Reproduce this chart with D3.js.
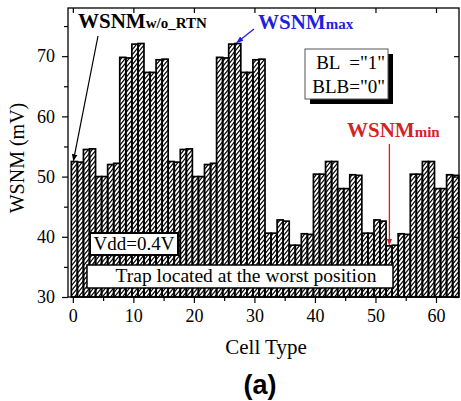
<!DOCTYPE html>
<html>
<head>
<meta charset="utf-8">
<script src="https://cdn.jsdelivr.net/npm/d3@7"></script>
<style>
body { margin: 0; background: #fff; }
text { font-family: "Liberation Serif", "Times New Roman", serif; }
</style>
</head>
<body>
<div id="chart"></div>
<script>
// WSNM per cell type (mV), cell index = position in array
var wsnm = [
  52.5, 52.4, 54.5, 54.6, 50.0, 50.0, 52.0, 52.2,
  69.8, 69.7, 72.0, 72.1, 67.3, 67.3, 69.4, 69.5,
  52.5, 52.4, 54.5, 54.6, 50.0, 50.0, 52.0, 52.2,
  69.8, 69.7, 72.0, 72.1, 67.3, 67.3, 69.4, 69.5,
  40.6, 40.6, 42.8, 42.6, 38.6, 38.6, 40.5, 40.4,
  50.4, 50.4, 52.5, 52.5, 48.0, 48.0, 50.3, 50.2,
  40.6, 40.6, 42.8, 42.6, 38.5, 38.6, 40.5, 40.4,
  50.4, 50.4, 52.5, 52.5, 48.0, 48.0, 50.3, 50.2
];
var xTicks = [0, 10, 20, 30, 40, 50, 60];
var xMinor = [5, 15, 25, 35, 45, 55];
var yTicks = [30, 40, 50, 60, 70];
var yMinor = [35, 45, 55, 65, 75];

var width = 461, height = 401;
var pLeft = 68, pRight = 459, pTop = 8, pBottom = 297;

var svg = d3.select("#chart").append("svg")
  .attr("width", width)
  .attr("height", height);

var x = d3.scaleLinear().domain([-0.8, 63.8]).range([pLeft, pRight]);
var y = d3.scaleLinear().domain([30, 78]).range([pBottom, pTop]);

var defs = svg.append("defs");
defs.append("pattern")
  .attr("id", "hatch")
  .attr("patternUnits", "userSpaceOnUse")
  .attr("width", 4)
  .attr("height", 5)
  .append("path")
  .attr("d", "M0,5 L4,0 M-1,1.25 L1,-1.25 M3,6.25 L5,3.75")
  .attr("stroke", "#000")
  .attr("stroke-width", 1.1);

function marker(id, col) {
  defs.append("marker")
    .attr("id", id)
    .attr("viewBox", "0 0 10 10")
    .attr("refX", 9).attr("refY", 5)
    .attr("markerWidth", 7).attr("markerHeight", 7)
    .attr("markerUnits", "userSpaceOnUse")
    .attr("orient", "auto")
    .append("path")
    .attr("d", "M0,1 L10,5 L0,9 Z")
    .attr("fill", col);
}
marker("arrK", "#000");
marker("arrB", "#1f1fe0");
marker("arrR", "#d42323");

// bars
svg.append("g").selectAll("rect")
  .data(wsnm)
  .enter().append("rect")
  .attr("x", function (d, i) { return x(i - 0.25); })
  .attr("width", function (d, i) { return x(i + 0.75) - x(i - 0.25); })
  .attr("y", function (d) { return y(d); })
  .attr("height", function (d) { return y(30) - y(d); })
  .attr("fill", "url(#hatch)")
  .attr("stroke", "#000")
  .attr("stroke-width", 1.7);

// frame
svg.append("rect")
  .attr("x", pLeft).attr("y", pTop)
  .attr("width", pRight - pLeft).attr("height", pBottom - pTop)
  .attr("fill", "none")
  .attr("stroke", "#000")
  .attr("stroke-width", 1.3);

// axes
var xAxis = svg.append("g")
  .attr("transform", "translate(0," + pBottom + ")")
  .call(d3.axisBottom(x).tickValues(xTicks).tickSize(6).tickPadding(6).tickFormat(d3.format("d")));
var xAxisMinor = svg.append("g")
  .attr("transform", "translate(0," + pBottom + ")")
  .call(d3.axisBottom(x).tickValues(xMinor).tickSize(4).tickFormat(""));
var yAxis = svg.append("g")
  .attr("transform", "translate(" + pLeft + ",0)")
  .call(d3.axisLeft(y).tickValues(yTicks).tickSize(6).tickPadding(7).tickFormat(d3.format("d")));
var yAxisMinor = svg.append("g")
  .attr("transform", "translate(" + pLeft + ",0)")
  .call(d3.axisLeft(y).tickValues(yMinor).tickSize(4).tickFormat(""));
var topAxis = svg.append("g")
  .attr("transform", "translate(0," + pTop + ")")
  .call(d3.axisTop(x).tickValues(xTicks).tickSize(-5).tickFormat(""));
var rightAxis = svg.append("g")
  .attr("transform", "translate(" + pRight + ",0)")
  .call(d3.axisRight(y).tickValues(yTicks).tickSize(-5).tickFormat(""));

[xAxis, xAxisMinor, yAxis, yAxisMinor, topAxis, rightAxis].forEach(function (g) {
  g.select(".domain").remove();
  g.selectAll("line").attr("stroke", "#000").attr("stroke-width", 1.2);
  g.selectAll("text")
    .attr("font-family", "Liberation Serif, serif")
    .attr("font-size", 18)
    .attr("fill", "#000");
});

// axis titles
svg.append("text")
  .attr("transform", "translate(24,158) rotate(-90)")
  .attr("text-anchor", "middle")
  .attr("font-size", 20)
  .text("WSNM (mV)");
svg.append("text")
  .attr("x", 266).attr("y", 354)
  .attr("text-anchor", "middle")
  .attr("font-size", 21)
  .text("Cell Type");
svg.append("text")
  .attr("x", 260).attr("y", 394)
  .attr("text-anchor", "middle")
  .style("font-family", "'Liberation Sans', Arial, sans-serif")
  .attr("font-weight", "bold")
  .attr("font-size", 27)
  .text("(a)");

// annotations
function label(xp, yp, main, sub, col) {
  var t = svg.append("text")
    .attr("x", xp).attr("y", yp)
    .attr("font-weight", "bold")
    .attr("fill", col);
  t.append("tspan").attr("font-size", 21).text(main);
  t.append("tspan").attr("font-size", 15).text(sub);
}
label(78, 28, "WSNM", "w/o_RTN", "#000");
label(258, 29, "WSNM", "max", "#1f1fe0");
label(347, 137, "WSNM", "min", "#d42323");

svg.append("line")
  .attr("x1", 98).attr("y1", 36)
  .attr("x2", x(0.1)).attr("y2", y(wsnm[0]) - 1)
  .attr("stroke", "#000").attr("stroke-width", 1.2)
  .attr("marker-end", "url(#arrK)");
svg.append("line")
  .attr("x1", 254).attr("y1", 29)
  .attr("x2", x(27.1)).attr("y2", y(wsnm[27]) - 1)
  .attr("stroke", "#1f1fe0").attr("stroke-width", 1.3)
  .attr("marker-end", "url(#arrB)");
svg.append("line")
  .attr("x1", x(52.3)).attr("y1", 144)
  .attr("x2", x(52.3)).attr("y2", y(wsnm[52]) - 1)
  .attr("stroke", "#d42323").attr("stroke-width", 1.3)
  .attr("marker-end", "url(#arrR)");

// BL / BLB box with shadow
svg.append("rect")
  .attr("x", 310).attr("y", 54).attr("width", 83).attr("height", 50)
  .attr("fill", "#000");
svg.append("rect")
  .attr("x", 305).attr("y", 49).attr("width", 83).attr("height", 50)
  .attr("fill", "#fff").attr("stroke", "#555").attr("stroke-width", 1);
svg.append("text")
  .attr("x", 385).attr("y", 69).attr("text-anchor", "end")
  .attr("font-size", 19).attr("xml:space", "preserve")
  .text("BL  =\"1\"");
svg.append("text")
  .attr("x", 385).attr("y", 93).attr("text-anchor", "end")
  .attr("font-size", 19)
  .text("BLB=\"0\"");

// Vdd box
svg.append("rect")
  .attr("x", 90).attr("y", 233).attr("width", 88).attr("height", 22)
  .attr("fill", "#fff").attr("stroke", "#000").attr("stroke-width", 2);
svg.append("text")
  .attr("x", 134).attr("y", 250).attr("text-anchor", "middle")
  .attr("font-size", 19)
  .text("Vdd=0.4V");

// trap box
svg.append("rect")
  .attr("x", 87).attr("y", 265).attr("width", 306).attr("height", 23)
  .attr("fill", "#fff").attr("stroke", "#000").attr("stroke-width", 1.5);
svg.append("text")
  .attr("x", 246).attr("y", 282).attr("text-anchor", "middle")
  .attr("font-size", 19.5)
  .text("Trap located at the worst position");
</script>
</body>
</html>
